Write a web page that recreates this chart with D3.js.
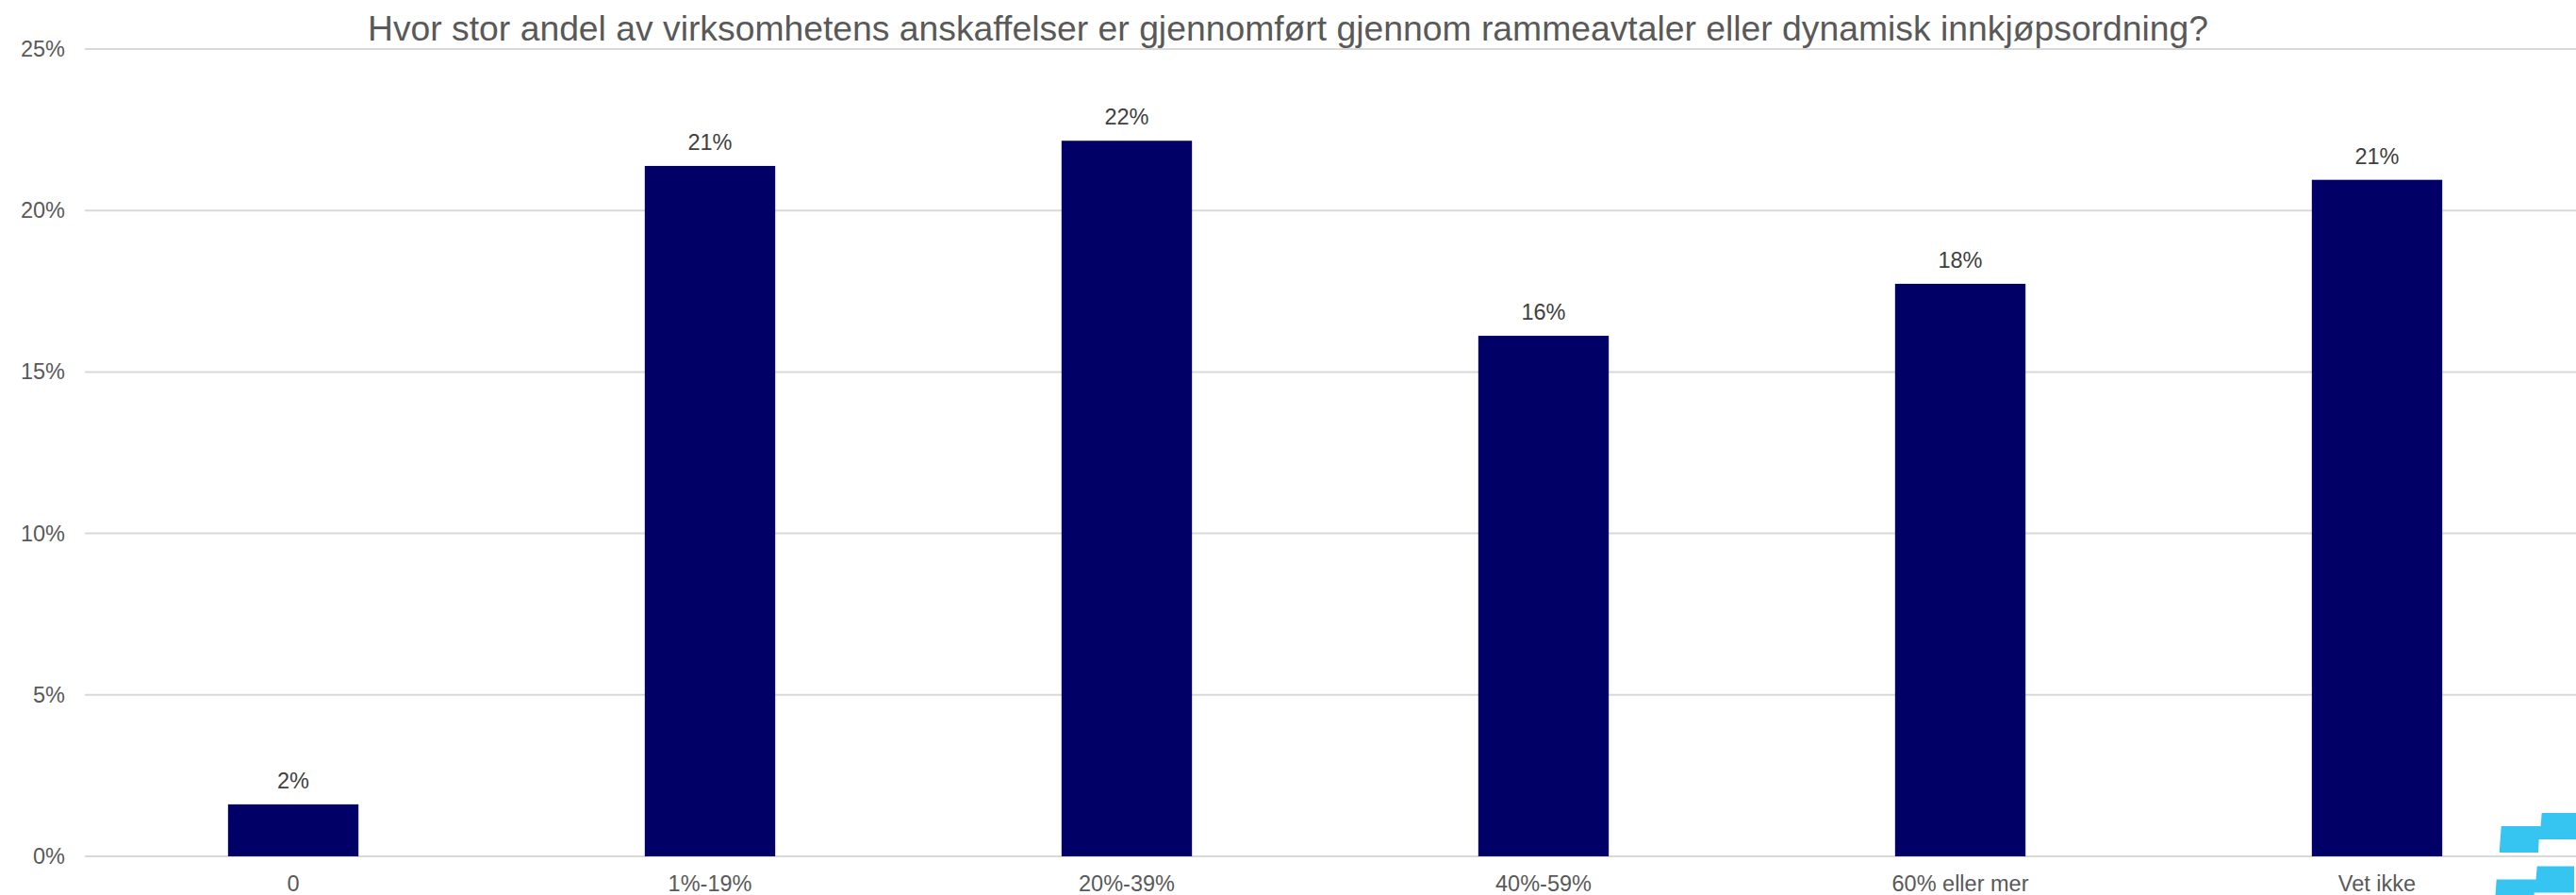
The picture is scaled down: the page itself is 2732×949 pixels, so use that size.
<!DOCTYPE html>
<html>
<head>
<meta charset="utf-8">
<script src="https://cdn.jsdelivr.net/npm/d3@7"></script>
<style>
  html, body { margin: 0; padding: 0; background: #ffffff; overflow: hidden; }
  svg { display: block; font-family: "Liberation Sans", Arial, sans-serif; }
</style>
</head>
<body>
<svg id="chart" width="2732" height="949"></svg>
<script>
const title = "Hvor stor andel av virksomhetens anskaffelser er gjennomført gjennom rammeavtaler eller dynamisk innkjøpsordning?";
const categories = ["0", "1%-19%", "20%-39%", "40%-59%", "60% eller mer", "Vet ikke"];
const values = [1.61, 21.38, 22.16, 16.12, 17.73, 20.95];
const yTicks = [0, 5, 10, 15, 20, 25];

const W = 2732, H = 949;
const svg = d3.select("#chart");

const x = d3.scaleBand()
  .domain(categories)
  .range([90, 2742])
  .paddingInner(0.687)
  .paddingOuter(0.3435);

const y = d3.scaleLinear().domain([0, 25]).range([908, 52]);

// gridlines
svg.append("g")
  .selectAll("line")
  .data(yTicks)
  .join("line")
  .attr("x1", 90)
  .attr("x2", W)
  .attr("y1", d => y(d))
  .attr("y2", d => y(d))
  .attr("stroke", "#d9d9d9")
  .attr("stroke-width", 2);

// y axis labels
const yAxis = d3.axisLeft(y).tickValues(yTicks).tickFormat(d => d + "%").tickSize(0).tickPadding(0);
const yg = svg.append("g").attr("transform", "translate(69,0)").call(yAxis);
yg.select(".domain").remove();
yg.selectAll("text")
  .attr("fill", "#595959")
  .style("font-size", "23.5px")
  .style("font-family", "'Liberation Sans', Arial, sans-serif");

// bars
svg.append("g")
  .selectAll("rect")
  .data(values)
  .join("rect")
  .attr("x", (d, i) => x(categories[i]))
  .attr("width", x.bandwidth())
  .attr("y", d => y(d))
  .attr("height", d => y(0) - y(d))
  .attr("fill", "#000066");

// data labels
svg.append("g")
  .selectAll("text")
  .data(values)
  .join("text")
  .attr("x", (d, i) => x(categories[i]) + x.bandwidth() / 2)
  .attr("y", d => y(d) - 17)
  .attr("text-anchor", "middle")
  .attr("fill", "#404040")
  .style("font-size", "23.5px")
  .text(d => Math.round(d) + "%");

// x axis labels
const xAxis = d3.axisBottom(x).tickSize(0).tickPadding(0);
const xg = svg.append("g").attr("transform", "translate(0,908)").call(xAxis);
xg.select(".domain").remove();
xg.selectAll("text")
  .attr("dy", null)
  .attr("y", 37)
  .attr("fill", "#595959")
  .style("font-size", "23.5px")
  .style("font-family", "'Liberation Sans', Arial, sans-serif");

// title
svg.append("text")
  .attr("x", 390)
  .attr("y", 42.5)
  .attr("fill", "#595959")
  .style("font-size", "37.3px")
  .text(title);

// logo
const logo = [[2650.7,904],[2652.7,876],[2694.5,876],[2695.7,862],[2735,862],[2735,890],[2692.7,890],[2692,904]];
const logoG = svg.append("g").attr("fill", "#36c5f0");
logoG.append("polygon").attr("points", logo.map(p => p.join(",")).join(" "));
logoG.append("polygon").attr("points", logo.map(p => [p[0] - 5, p[1] + 56.5].join(",")).join(" "));
</script>
</body>
</html>
